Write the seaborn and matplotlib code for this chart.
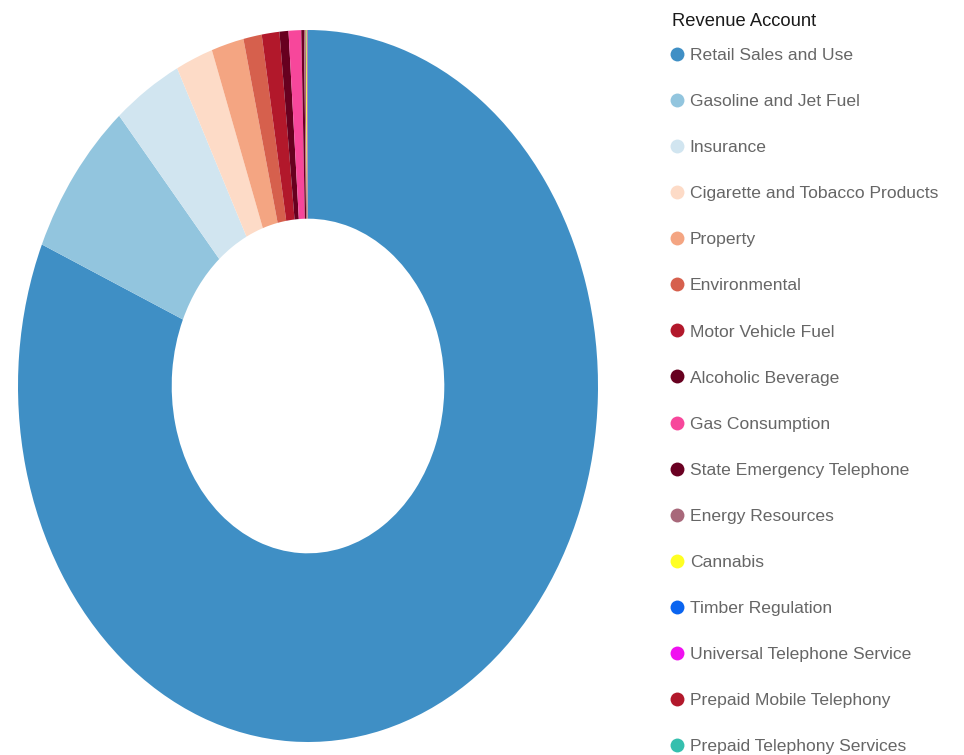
import matplotlib
matplotlib.use("Agg")
import matplotlib.pyplot as plt
import seaborn as sns
from matplotlib.lines import Line2D

sns.set_theme(style="white")
plt.rcParams['font.family'] = ['Liberation Sans', 'DejaVu Sans']

accounts = ["Retail Sales and Use", "Gasoline and Jet Fuel", "Insurance",
            "Cigarette and Tobacco Products", "Property", "Environmental",
            "Motor Vehicle Fuel", "Alcoholic Beverage", "Gas Consumption",
            "State Emergency Telephone", "Energy Resources", "Cannabis",
            "Timber Regulation", "Universal Telephone Service",
            "Prepaid Mobile Telephony", "Prepaid Telephony Services"]
share_pct = [81.4, 7.2, 3.83, 2.07, 1.8, 1.02, 0.98, 0.5, 0.7,
             0.15, 0.1, 0.05, 0.02, 0.02, 0.02, 0.01]
colors = ["#3f8fc5", "#92c5de", "#d1e5f0", "#fddbc7", "#f4a582", "#d6604d",
          "#b2182b", "#67001f", "#f7479b", "#6a0022", "#a8687a", "#ffff22",
          "#0a64f0", "#f010f0", "#b2182b", "#35bfae"]
palette = sns.color_palette(colors)

fig = plt.figure(figsize=(9.64, 7.55), dpi=100)
ax = fig.add_axes([18/964, 13/755, 580/964, 712/755])
ax.pie(share_pct, colors=palette, startangle=90, counterclock=False,
       radius=1.0, wedgeprops=dict(width=0.53, edgecolor="none", linewidth=0))
ax.set_aspect("auto")
ax.set_xlim(-1, 1)
ax.set_ylim(-1, 1)
ax.axis("off")

fig.text(672/964, 1 - 21/755, "Revenue Account", fontsize=13.2,
         color="#1a1a1a", ha="left", va="center")

handles = [Line2D([], [], marker="o", linestyle="none", markersize=10,
                  markerfacecolor=c, markeredgecolor="none") for c in palette]
leg = fig.legend(handles, accounts, loc="upper left",
                 bbox_to_anchor=(668/964, 1 - 48/755), frameon=False,
                 fontsize=12.6, labelspacing=1.76, handletextpad=0.24,
                 handlelength=1.0, borderpad=0.0, borderaxespad=0.0)
for t in leg.get_texts():
    t.set_color("#666666")

fig.savefig("out.png", dpi=100)
